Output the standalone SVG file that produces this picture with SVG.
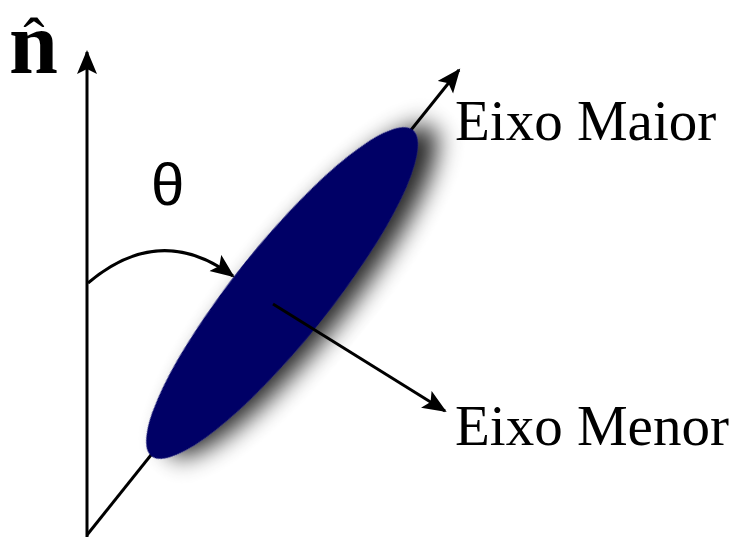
<svg xmlns="http://www.w3.org/2000/svg" width="735" height="537" viewBox="0 0 735 537">
  <style>
    .ax { stroke: #000; stroke-width: 3; fill: none; }
    .lbl { font-family: "Liberation Serif", "Times New Roman", serif; font-size: 57px; fill: #000; }
  </style>
  <defs>
    <marker id="ah" markerUnits="userSpaceOnUse" markerWidth="26" markerHeight="22" refX="22" refY="10" orient="auto" viewBox="0 0 26 22">
      <path d="M0,0 L24,10 L0,20 L5,10 z" fill="#000"/>
    </marker>
    <filter id="sh" x="-40%" y="-40%" width="180%" height="180%">
      <feGaussianBlur in="SourceAlpha" stdDeviation="12"/>
      <feOffset dx="14" dy="14" result="b"/>
      <feComponentTransfer in="b" result="c"><feFuncA type="linear" slope="0.85"/></feComponentTransfer>
      <feMerge><feMergeNode in="c"/><feMergeNode in="SourceGraphic"/></feMerge>
    </filter>
  </defs>
  <rect width="735" height="537" fill="#fff"/>
  <g id="connectors">
    <line class="ax" x1="87" y1="537" x2="87" y2="52" marker-end="url(#ah)"/>
    <line class="ax" x1="87" y1="535" x2="459" y2="70" marker-end="url(#ah)"/>
  </g>
  <g id="ellipse">
    <ellipse cx="282" cy="293" rx="209" ry="48" transform="rotate(-51.3 282 293)" fill="#000066" filter="url(#sh)"/>
  </g>
  <g id="connectors-top">
    <path class="ax" d="M88,283 Q160,222 233,276" marker-end="url(#ah)"/>
    <line class="ax" x1="273" y1="304" x2="445" y2="411" marker-end="url(#ah)"/>
  </g>
  <g id="labels">
    <g id="nhat">
      <text x="9" y="73" font-family="Liberation Serif, serif" font-weight="bold" font-size="88">n</text>
      <text x="34" y="62" text-anchor="middle" font-family="Liberation Serif, serif" font-size="64">ˆ</text>
    </g>
    <text x="151" y="205" font-family="Liberation Sans, Arial, sans-serif" font-size="60">θ</text>
    <text class="lbl" x="455" y="140">Eixo Maior</text>
    <text class="lbl" x="455" y="445">Eixo Menor</text>
  </g>
</svg>
